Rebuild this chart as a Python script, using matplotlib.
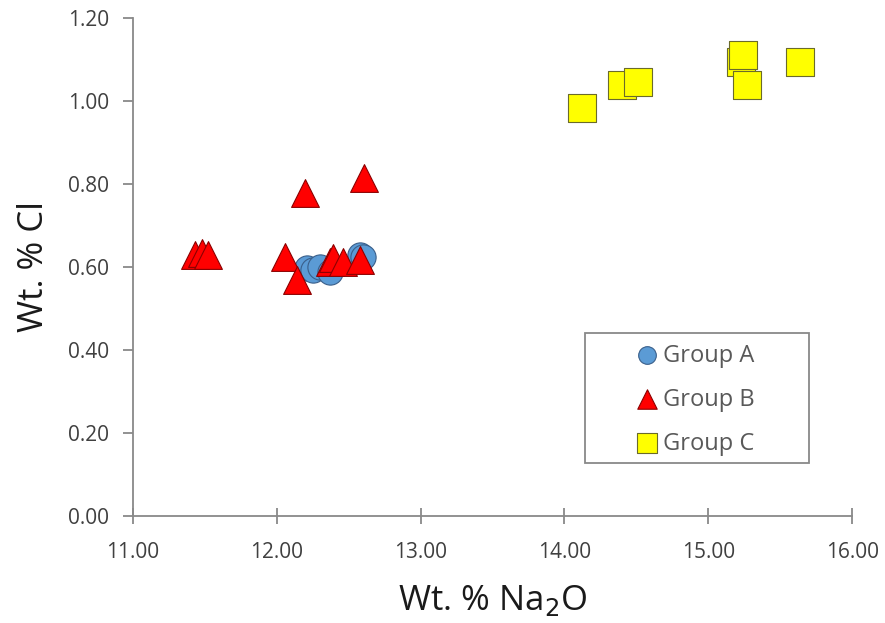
import matplotlib.pyplot as plt
from matplotlib.patches import Rectangle

plt.rcParams['font.family'] = ['Open Sans', 'DejaVu Sans']

a_x = [12.21, 12.25, 12.30, 12.37, 12.58, 12.60]
a_y = [0.597, 0.593, 0.601, 0.589, 0.629, 0.625]

b_x = [11.43, 11.48, 11.52, 12.20, 12.61, 12.06, 12.14, 12.37, 12.39, 12.46, 12.58]
b_y = [0.629, 0.633, 0.629, 0.778, 0.815, 0.625, 0.569, 0.613, 0.621, 0.613, 0.617]

c_x = [14.12, 14.40, 14.51, 15.23, 15.24, 15.27, 15.64]
c_y = [0.982, 1.039, 1.047, 1.095, 1.111, 1.039, 1.093]

fig = plt.figure(figsize=(8.85, 6.23), dpi=100)
ax = fig.add_axes([0.150, 0.172, 0.813, 0.799])

ax.scatter(a_x, a_y, marker='o', s=330, c='#5B9BD5', edgecolors='#3a5f8a', linewidths=0.8, label='Group A', zorder=3)
ax.scatter(b_x, b_y, marker='^', s=400, c='#FF0000', edgecolors='#8B0000', linewidths=0.8, label='Group B', zorder=4)
ax.scatter(c_x, c_y, marker='s', s=400, c='#FFFF00', edgecolors='#6b6b2a', linewidths=0.8, label='Group C', zorder=3)

ax.set_xlim(11, 16)
ax.set_ylim(0, 1.2)
ax.set_xticks([11, 12, 13, 14, 15, 16])
ax.set_xticklabels(['11.00', '12.00', '13.00', '14.00', '15.00', '16.00'])
ax.set_yticks([0, 0.2, 0.4, 0.6, 0.8, 1.0, 1.2])
ax.set_yticklabels(['0.00', '0.20', '0.40', '0.60', '0.80', '1.00', '1.20'])

for s in ['top', 'right']:
    ax.spines[s].set_visible(False)
for s in ['left', 'bottom']:
    ax.spines[s].set_color('#898989')
    ax.spines[s].set_linewidth(1.3)
ax.tick_params(axis='both', colors='#898989', labelcolor='#404040', labelsize=15, length=6, width=1.3)
ax.tick_params(axis='x', direction='inout', length=12, pad=13)
ax.tick_params(axis='y', direction='out', length=7, pad=10)

ax.set_xlabel('Wt. % Na$_2$O', fontsize=25, color='#1a1a1a', labelpad=14)
ax.set_ylabel('Wt. % Cl', fontsize=25, color='#1a1a1a', labelpad=12)

# legend box
box = Rectangle((0.629, 0.106), 0.311, 0.261, transform=ax.transAxes, fill=True,
                facecolor='white', edgecolor='#898989', linewidth=1.3, zorder=5)
ax.add_patch(box)
leg = ax.legend(loc='center', bbox_to_anchor=(0.780, 0.2335), fontsize=17, frameon=False,
                labelspacing=0.85, handletextpad=0.1, handlelength=1.2, markerscale=0.7,
                borderpad=0, borderaxespad=0)
leg.set_zorder(6)
for t in leg.get_texts():
    t.set_color('#595959')

fig.savefig('out.png', dpi=100)
